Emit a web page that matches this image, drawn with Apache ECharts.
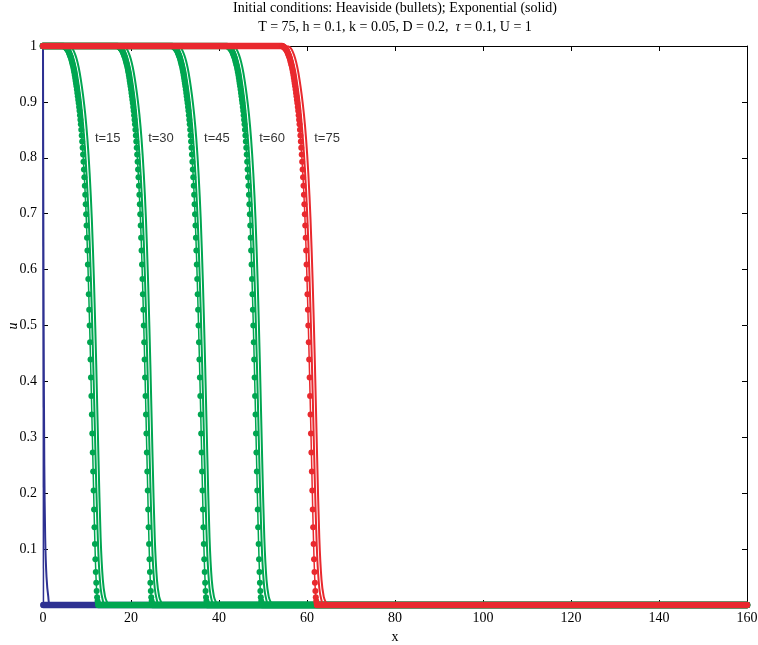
<!DOCTYPE html>
<html><head><meta charset="utf-8">
<script src="https://cdn.jsdelivr.net/npm/echarts@6/dist/echarts.min.js"></script>
<style>html,body{margin:0;padding:0;background:#fff}#c{width:758px;height:645px}</style>
</head><body><div id="c"></div>
<script>
// ---- data ----
const times = [0, 15, 30, 45, 60, 75];
const timeColors = ['#2E3192', '#00A651', '#00A651', '#00A651', '#00A651', '#E9292E'];
// x where the Heaviside (bullet) front crosses u = 0.5, for t = 15..75
const frontCenters = [10.6, 22.9, 35.35, 47.8, 60.3];
// Heaviside front profile (bullets), grid step h = 0.1, offsets xi from -6.0 to 2.0 around centre
const profileXi0 = -6.0;
const gridH = 0.1;
const heavisideProfile = [
  1.000, 1.000, 0.999, 0.999, 0.998, 0.998, 0.997, 0.996, 0.995, 0.994,
  0.993, 0.992, 0.990, 0.988, 0.986, 0.984, 0.982, 0.980, 0.977, 0.974,
  0.971, 0.968, 0.965, 0.961, 0.957, 0.953, 0.948, 0.943, 0.938, 0.933,
  0.928, 0.922, 0.916, 0.910, 0.904, 0.898, 0.891, 0.884, 0.876, 0.868,
  0.860, 0.850, 0.840, 0.829, 0.818, 0.806, 0.793, 0.779, 0.765, 0.750,
  0.734, 0.717, 0.699, 0.679, 0.657, 0.634, 0.609, 0.583, 0.556, 0.528,
  0.500, 0.470, 0.439, 0.407, 0.374, 0.341, 0.307, 0.273, 0.239, 0.205,
  0.171, 0.139, 0.109, 0.082, 0.059, 0.040, 0.025, 0.014, 0.007, 0.003,
  0.000
];
// Exponential initial condition solutions (solid lines), [xi, u] around the same centre
const solidAProfile = [
  [-6.0,1.000],[-5.0,0.997],[-4.5,0.993],[-4.0,0.985],[-3.5,0.972],[-3.0,0.955],
  [-2.5,0.930],[-2.0,0.900],[-1.5,0.860],[-1.0,0.808],[-0.5,0.740],[0.0,0.650],
  [0.5,0.525],[1.0,0.375],[1.5,0.215],[2.0,0.090],[2.5,0.030],[3.0,0.008],[3.5,0.000]
];
const solidBProfile = [
  [-6.0,1.000],[-4.5,0.999],[-4.0,0.996],[-3.5,0.989],[-3.0,0.978],[-2.5,0.962],
  [-2.0,0.940],[-1.5,0.912],[-1.0,0.878],[-0.5,0.833],[0.0,0.772],[0.5,0.690],
  [1.0,0.575],[1.5,0.430],[2.0,0.265],[2.5,0.120],[3.0,0.045],[3.5,0.015],[4.0,0.004],[4.3,0.000]
];
// t = 0 initial conditions
const t0Heaviside = [[0, 1], [0.1, 0]];
const t0Exponential = [[0,1],[0.05,0.8],[0.15,0.5],[0.3,0.25],[0.5,0.12],[0.8,0.05],[1.2,0.015],[1.7,0]];
// curve labels
const labelTexts = ['t=15', 't=30', 't=45', 't=60', 't=75'];
const labelX = [11.8, 23.9, 36.6, 49.15, 61.65];
const labelU = [0.834, 0.834, 0.834, 0.834, 0.834];
const xTicks = [0, 20, 40, 60, 80, 100, 120, 140, 160];
const xMin = 0, xMax = 160;

// ---- build series ----
const series = [];
let z = 1;
function band(data, color) {
  series.push({type:'line', data, symbol:'none', clip:false, z:z++, silent:true,
    lineStyle:{color, width:6.5, cap:'round'}});
}
function solid(data, color) {
  series.push({type:'line', data, symbol:'none', clip:false, z:z++, silent:true, smooth:0.3,
    lineStyle:{color, width:2}});
}
function dots(data, color) {
  series.push({type:'line', data, symbol:'circle', symbolSize:6, showSymbol:true, showAllSymbol:true,
    clip:false, z:z++, silent:true, itemStyle:{color}, lineStyle:{color, width:1.5}});
}
// t = 0
band([[t0Heaviside[1][0], 0], [xMax, 0]], timeColors[0]);
solid(t0Exponential.concat([[xMax, 0]]), timeColors[0]);
dots(t0Heaviside, timeColors[0]);
// t > 0
frontCenters.forEach((c, i) => {
  const col = timeColors[i + 1];
  const hd = heavisideProfile.map((u, k) => [+(c + profileXi0 + k * gridH).toFixed(3), u]);
  band([[xMin, 1], hd[0]], col);
  band([hd[hd.length - 1], [xMax, 0]], col);
  solid([[xMin, 1]].concat(solidBProfile.map(p => [c + p[0], p[1]]), [[xMax, 0]]), col);
  solid([[xMin, 1]].concat(solidAProfile.map(p => [c + p[0], p[1]]), [[xMax, 0]]), col);
  dots(hd, col);
});
series.push({type:'scatter', symbolSize:0, z:z++, silent:true,
  data: labelTexts.map((t, i) => [labelX[i], labelU[i], t]),
  label:{show:true, position:'right', distance:0, formatter:p => p.data[2],
    color:'#000', fontFamily:'"Liberation Sans", Arial, sans-serif', fontSize:13}});

const serif = '"Liberation Serif", "Times New Roman", serif';
function axisCommon() {
  return {
    axisLine:{show:true, onZero:false, lineStyle:{color:'#000', width:1}},
    axisTick:{show:true, inside:true, length:5, lineStyle:{color:'#000'}},
    splitLine:{show:false}
  };
}
const option = {
  animation:false,
  backgroundColor:'#fff',
  grid:{left:43, right:11, top:46, bottom:40, containLabel:false, outerBoundsMode:'none'},
  xAxis:[
    Object.assign({type:'value', min:xMin, max:xMax, interval:20, position:'bottom',
      name:'x', nameLocation:'middle', nameGap:21,
      nameTextStyle:{color:'#000', fontFamily:serif, fontSize:14},
      axisLabel:{color:'#000', fontFamily:serif, fontSize:14, margin:6,
        formatter:v => xTicks.indexOf(v) >= 0 ? String(v) : ''}}, axisCommon()),
    Object.assign({type:'value', min:xMin, max:xMax, interval:20, position:'top',
      axisLabel:{show:false}}, axisCommon())
  ],
  yAxis:[
    Object.assign({type:'value', min:0, max:1, interval:0.1, position:'left',
      axisLabel:{color:'#000', fontFamily:serif, fontSize:14, margin:6,
        formatter:v => v === 0 ? '' : String(+v.toFixed(1))}}, axisCommon()),
    Object.assign({type:'value', min:0, max:1, interval:0.1, position:'right',
      axisLabel:{show:false}}, axisCommon())
  ],
  graphic:[
    {type:'text', x:395, y:1, silent:true, style:{
      text:'Initial conditions: Heaviside (bullets); Exponential (solid)',
      textAlign:'center', textVerticalAlign:'top', fill:'#000', font:'14px ' + serif}},
    {type:'text', x:395, y:20, silent:true, style:{
      text:'{a|T = 75, h = 0.1, k = 0.05, D = 0.2,  }{b|τ}{a| = 0.1, U = 1}',
      textAlign:'center', textVerticalAlign:'top', fill:'#000', font:'14px ' + serif,
      rich:{a:{fontFamily:serif, fontSize:14, fill:'#000', color:'#000'},
            b:{fontFamily:serif, fontSize:14, fontStyle:'italic', fill:'#000', color:'#000'}}}},
    {type:'text', x:13, y:326, rotation:Math.PI / 2, silent:true, style:{
      text:'u', textAlign:'center', textVerticalAlign:'middle', fill:'#000',
      font:'italic 14px ' + serif}}
  ],
  series
};
const chart = echarts.init(document.getElementById('c'), null, {renderer:'canvas'});
chart.setOption(option);
</script></body></html>
